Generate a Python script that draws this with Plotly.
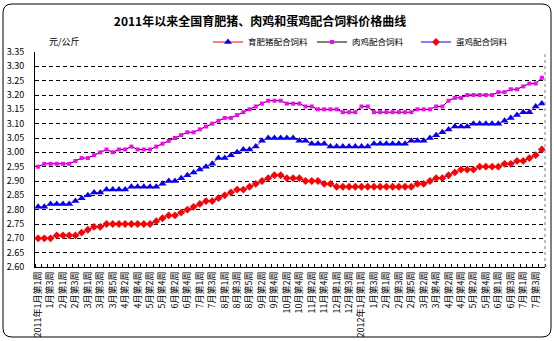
import plotly.graph_objects as go

weeks = [
    "2011年1月第1周", "1月第2周", "1月第3周", "1月第4周",
    "2月第1周", "2月第2周", "2月第3周", "2月第4周",
    "3月第1周", "3月第2周", "3月第3周", "3月第4周", "3月第5周",
    "4月第1周", "4月第2周", "4月第3周", "4月第4周",
    "5月第1周", "5月第2周", "5月第3周", "5月第4周",
    "6月第1周", "6月第2周", "6月第3周", "6月第4周", "6月第5周",
    "7月第1周", "7月第2周", "7月第3周", "7月第4周",
    "8月第1周", "8月第2周", "8月第3周", "8月第4周", "8月第5周",
    "9月第1周", "9月第2周", "9月第3周", "9月第4周",
    "10月第1周", "10月第2周", "10月第3周", "10月第4周",
    "11月第1周", "11月第2周", "11月第3周", "11月第4周", "11月第5周",
    "12月第1周", "12月第2周", "12月第3周", "12月第4周",
    "2012年1月第1周", "1月第2周", "1月第3周", "1月第4周",
    "2月第1周", "2月第2周", "2月第3周", "2月第4周", "2月第5周",
    "3月第1周", "3月第2周", "3月第3周", "3月第4周",
    "4月第1周", "4月第2周", "4月第3周", "4月第4周",
    "5月第1周", "5月第2周", "5月第3周", "5月第4周", "5月第5周",
    "6月第1周", "6月第2周", "6月第3周", "6月第4周",
    "7月第1周", "7月第2周", "7月第3周", "7月第4周",
]

pig_feed = [
    2.81, 2.81, 2.82, 2.82, 2.82, 2.82, 2.83, 2.84, 2.85, 2.86,
    2.86, 2.87, 2.87, 2.87, 2.87, 2.88, 2.88, 2.88, 2.88, 2.88,
    2.89, 2.90, 2.90, 2.91, 2.92, 2.93, 2.94, 2.95, 2.96, 2.98,
    2.98, 2.99, 3.00, 3.01, 3.01, 3.02, 3.04, 3.05, 3.05, 3.05,
    3.05, 3.05, 3.04, 3.04, 3.03, 3.03, 3.03, 3.02, 3.02, 3.02,
    3.02, 3.02, 3.02, 3.02, 3.03, 3.03, 3.03, 3.03, 3.03, 3.03,
    3.04, 3.04, 3.04, 3.05, 3.06, 3.07, 3.08, 3.09, 3.09, 3.09,
    3.10, 3.10, 3.10, 3.10, 3.10, 3.11, 3.12, 3.13, 3.14, 3.14,
    3.16, 3.17,
]

broiler_feed = [
    2.95, 2.96, 2.96, 2.96, 2.96, 2.96, 2.97, 2.98, 2.98, 2.99,
    3.00, 3.01, 3.00, 3.01, 3.01, 3.02, 3.01, 3.01, 3.01, 3.02,
    3.03, 3.04, 3.05, 3.06, 3.07, 3.07, 3.08, 3.09, 3.10, 3.11,
    3.12, 3.12, 3.13, 3.14, 3.15, 3.16, 3.17, 3.18, 3.18, 3.18,
    3.17, 3.17, 3.17, 3.16, 3.16, 3.15, 3.15, 3.15, 3.15, 3.14,
    3.14, 3.14, 3.16, 3.16, 3.14, 3.14, 3.14, 3.14, 3.14, 3.14,
    3.14, 3.15, 3.15, 3.15, 3.16, 3.16, 3.18, 3.19, 3.19, 3.20,
    3.20, 3.20, 3.20, 3.20, 3.21, 3.21, 3.22, 3.22, 3.23, 3.24,
    3.24, 3.26,
]

layer_feed = [
    2.70, 2.70, 2.70, 2.71, 2.71, 2.71, 2.71, 2.72, 2.73, 2.74,
    2.74, 2.75, 2.75, 2.75, 2.75, 2.75, 2.75, 2.75, 2.75, 2.76,
    2.77, 2.78, 2.78, 2.79, 2.80, 2.81, 2.82, 2.83, 2.83, 2.84,
    2.85, 2.86, 2.87, 2.87, 2.88, 2.89, 2.90, 2.91, 2.92, 2.92,
    2.91, 2.91, 2.91, 2.90, 2.90, 2.90, 2.89, 2.89, 2.88, 2.88,
    2.88, 2.88, 2.88, 2.88, 2.88, 2.88, 2.88, 2.88, 2.88, 2.88,
    2.88, 2.89, 2.89, 2.90, 2.91, 2.91, 2.92, 2.93, 2.94, 2.94,
    2.94, 2.95, 2.95, 2.95, 2.95, 2.96, 2.96, 2.97, 2.97, 2.98,
    2.99, 3.01,
]

y_ticks = [2.60, 2.65, 2.70, 2.75, 2.80, 2.85, 2.90, 2.95, 3.00,
           3.05, 3.10, 3.15, 3.20, 3.25, 3.30, 3.35]

FONT = "Noto Sans CJK SC"
W, H = 554, 341
ML, MR, MT, MB = 35, 9, 52, 74
PW, PH = W - ML - MR, H - MT - MB

x_idx = list(range(len(weeks)))

fig = go.Figure()
fig.add_trace(go.Scatter(
    x=x_idx, y=pig_feed, name="育肥猪配合饲料", mode="lines+markers",
    line=dict(color="#FF0000", width=1),
    marker=dict(symbol="triangle-up", size=7, color="#0000FF"),
))
fig.add_trace(go.Scatter(
    x=x_idx, y=broiler_feed, name="肉鸡配合饲料", mode="lines+markers",
    line=dict(color="#000000", width=1),
    marker=dict(symbol="square", size=4, color="#FF00FF"),
))
fig.add_trace(go.Scatter(
    x=x_idx, y=layer_feed, name="蛋鸡配合饲料", mode="lines+markers",
    line=dict(color="#0000FF", width=1),
    marker=dict(symbol="diamond", size=6, color="#FF0000"),
))


def px2paper(px, py):
    return (px - ML) / PW, (H - MB - py) / PH


def rounded_rect_path(x0, y0, x1, y1, r):
    a = px2paper(x0 + r, y0); b = px2paper(x1 - r, y0)
    c = px2paper(x1, y0); d = px2paper(x1, y0 + r)
    e = px2paper(x1, y1 - r); f = px2paper(x1, y1)
    g = px2paper(x1 - r, y1); h = px2paper(x0 + r, y1)
    i = px2paper(x0, y1); j = px2paper(x0, y1 - r)
    k = px2paper(x0, y0 + r); l = px2paper(x0, y0)
    path = (f"M {a[0]},{a[1]} L {b[0]},{b[1]} Q {c[0]},{c[1]} {d[0]},{d[1]} "
            f"L {e[0]},{e[1]} Q {f[0]},{f[1]} {g[0]},{g[1]} "
            f"L {h[0]},{h[1]} Q {i[0]},{i[1]} {j[0]},{j[1]} "
            f"L {k[0]},{k[1]} Q {l[0]},{l[1]} {a[0]},{a[1]} Z")
    return path


fig.add_shape(type="path", xref="paper", yref="paper",
              path=rounded_rect_path(3, 4, 551, 337, 9),
              line=dict(color="#000000", width=1))
fig.add_shape(type="line", xref="paper", yref="paper", x0=1, x1=1, y0=0, y1=1,
              line=dict(color="#808080", width=1, dash="dot"))

tick_vals = x_idx[::2]
tick_text = weeks[::2]

fig.update_layout(
    width=W, height=H,
    margin=dict(l=ML, r=MR, t=MT, b=MB, autoexpand=False),
    paper_bgcolor="#FFFFFF", plot_bgcolor="#FFFFFF",
    font=dict(family=FONT, size=9, color="#000000"),
    title=dict(text="<b>2011年以来全国育肥猪、肉鸡和蛋鸡配合饲料价格曲线</b>",
               x=260 / W, xanchor="center", y=1 - 22 / H, yanchor="middle",
               font=dict(family=FONT, size=12, color="#000000")),
    showlegend=True,
    legend=dict(orientation="h", x=px2paper(208, 42)[0], y=px2paper(0, 42)[1],
                xanchor="left", yanchor="middle", bgcolor="rgba(0,0,0,0)",
                font=dict(family=FONT, size=8.5), itemwidth=30,
                entrywidth=59, tracegroupgap=0),
    xaxis=dict(
        range=[-0.5, len(weeks) - 0.5], tickmode="array",
        tickvals=tick_vals, ticktext=tick_text, tickangle=-90,
        ticks="", showgrid=False, zeroline=False,
        showline=True, linecolor="#000000", linewidth=1,
        tickfont=dict(family=FONT, size=9), automargin=False,
        minor=dict(tickmode="array",
                   tickvals=[v - 0.5 for v in x_idx] + [len(weeks) - 0.5],
                   ticks="inside", ticklen=3, tickcolor="#000000",
                   showgrid=False),
    ),
    yaxis=dict(
        range=[2.60, 3.35], tickmode="array", tickvals=y_ticks,
        ticktext=[f"{v:.2f}" for v in y_ticks],
        showgrid=True, gridcolor="#000000", gridwidth=1, griddash="4px,3px",
        zeroline=False, showline=True, linecolor="#000000", linewidth=1,
        ticks="", tickfont=dict(family=FONT, size=9), automargin=False,
        ticklabelstandoff=8,
    ),
)

fig.add_annotation(text="元/公斤", xref="paper", yref="paper",
                   x=px2paper(47, 42)[0], y=px2paper(0, 42)[1],
                   xanchor="left", yanchor="middle", showarrow=False,
                   font=dict(family=FONT, size=9, color="#000000"))

fig.write_html("out.html")
